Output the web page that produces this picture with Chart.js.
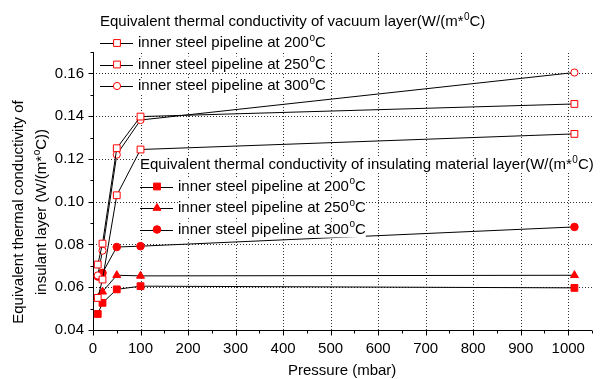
<!DOCTYPE html>
<html>
<head>
<meta charset="utf-8">
<script src="https://cdn.jsdelivr.net/npm/chart.js@4.4.0/dist/chart.umd.min.js"></script>
<style>
  body { margin: 0; background: #fff; }
  canvas { display: block; }
</style>
</head>
<body>
<canvas id="chart" width="601" height="379"></canvas>
<script>
// pressure (mbar) and conductivity readings
const pressure = [10, 20, 50, 100, 1013];
const vacuum200 = [0.055, 0.0636, 0.103, 0.1244, 0.1317];
const vacuum250 = [0.0706, 0.0804, 0.125, 0.1398, 0.1457];
const vacuum300 = [0.0655, 0.0771, 0.122, 0.1382, 0.1604];
const insul200 = [0.0475, 0.0527, 0.059, 0.0605, 0.0597];
const insul250 = [0.0548, 0.0579, 0.0656, 0.0653, 0.0656];
const insul300 = [0.065, 0.0667, 0.0788, 0.0792, 0.0882];

const xTicks = [0, 100, 200, 300, 400, 500, 600, 700, 800, 900, 1000];
const yTicks = [0.04, 0.06, 0.08, 0.10, 0.12, 0.14, 0.16];

const FONT = '"Liberation Sans", Arial, sans-serif';
const RED = '#ff0000';

const markers = {
    openSquare: { pointStyle: 'rect', radius: 4.8, fill: '#fff' },
    openCircle: { pointStyle: 'circle', radius: 3.6, fill: '#fff' },
    square: { pointStyle: 'rect', radius: 4.8, fill: RED },
    triangle: { pointStyle: 'triangle', radius: 4.6, fill: RED },
    circle: { pointStyle: 'circle', radius: 3.8, fill: RED }
};

function series(label, values, m) {
    const mk = markers[m];
    return {
        label: label,
        data: pressure.map((p, i) => ({ x: p, y: values[i] })),
        borderColor: '#000',
        borderWidth: 1,
        pointStyle: mk.pointStyle,
        pointRadius: mk.radius,
        pointBackgroundColor: mk.fill,
        pointBorderColor: RED,
        pointBorderWidth: 1,
        tension: 0
    };
}

// text pieces: plain strings, or {sup: '...'} for superscripts
function richWidth(ctx, parts, size) {
    let w = 0;
    parts.forEach(p => {
        if (typeof p === 'string') { ctx.font = size + 'px ' + FONT; w += ctx.measureText(p).width; }
        else { ctx.font = Math.round(size * 0.65) + 'px ' + FONT; w += ctx.measureText(p.sup).width + 0.5; }
    });
    return w;
}

function drawRich(ctx, parts, x, y, size) {
    ctx.textBaseline = 'middle';
    ctx.textAlign = 'left';
    ctx.fillStyle = '#000';
    parts.forEach(p => {
        if (typeof p === 'string') {
            ctx.font = size + 'px ' + FONT;
            ctx.fillText(p, x, y);
            x += ctx.measureText(p).width;
        } else {
            ctx.font = Math.round(size * 0.65) + 'px ' + FONT;
            ctx.fillText(p.sup, x + 0.5, y - size * 0.35);
            x += ctx.measureText(p.sup).width + 0.5;
        }
    });
}

const legendBlocks = [
    {
        title: ['Equivalent thermal conductivity of vacuum layer(W/(m*', { sup: '0' }, 'C)'],
        x: 100, titleY: 22,
        rows: [
            { y: 43, m: 'openSquare', t: '200' },
            { y: 64.5, m: 'openSquare', t: '250' },
            { y: 86, m: 'openCircle', t: '300' }
        ]
    },
    {
        title: ['Equivalent thermal conductivity of insulating material layer(W/(m*', { sup: '0' }, 'C)'],
        x: 140, titleY: 165,
        rows: [
            { y: 186.5, m: 'square', t: '200' },
            { y: 208, m: 'triangle', t: '250' },
            { y: 229.5, m: 'circle', t: '300' }
        ]
    }
];

const framePlugin = {
    id: 'frame',
    beforeDatasetsDraw(chart) {
        const { ctx, chartArea: a, scales: { x, y } } = chart;
        ctx.save();
        // dotted grid
        ctx.strokeStyle = '#333';
        ctx.lineWidth = 1;
        ctx.setLineDash([1, 2]);
        xTicks.slice(1).forEach(v => {
            const px = Math.round(x.getPixelForValue(v)) + 0.5;
            ctx.beginPath(); ctx.moveTo(px, a.bottom); ctx.lineTo(px, a.top); ctx.stroke();
        });
        yTicks.slice(1).forEach(v => {
            const py = Math.round(y.getPixelForValue(v)) + 0.5;
            ctx.beginPath(); ctx.moveTo(a.left, py); ctx.lineTo(a.right, py); ctx.stroke();
        });
        ctx.setLineDash([]);
        ctx.strokeStyle = '#000';
        // axes
        const ax = Math.round(a.left) + 0.5, ay = Math.round(a.bottom) + 0.5;
        ctx.beginPath();
        ctx.moveTo(ax, a.top); ctx.lineTo(ax, ay); ctx.lineTo(a.right, ay);
        ctx.stroke();
        // tick marks, major and minor
        for (let v = 0; v <= 1050; v += 50) {
            const px = Math.round(x.getPixelForValue(v)) + 0.5;
            const len = v % 100 === 0 ? 5 : 3;
            ctx.beginPath(); ctx.moveTo(px, ay); ctx.lineTo(px, ay + len); ctx.stroke();
        }
        for (let k = 4; k <= 17; k++) {
            const py = Math.round(y.getPixelForValue(k / 100)) + 0.5;
            const len = k % 2 === 0 ? 5 : 3;
            ctx.beginPath(); ctx.moveTo(ax, py); ctx.lineTo(ax - len, py); ctx.stroke();
        }
        ctx.restore();
    },
    afterDatasetsDraw(chart) {
        const ctx = chart.ctx;
        const size = 15;
        ctx.save();
        legendBlocks.forEach(b => {
            const tw = richWidth(ctx, b.title, size);
            ctx.fillStyle = '#fff';
            ctx.fillRect(b.x, b.titleY - 8, tw, 16);
            drawRich(ctx, b.title, b.x, b.titleY, size);
            b.rows.forEach(r => {
                const parts = ['inner steel pipeline at ' + r.t, { sup: 'o' }, 'C'];
                const tx = b.x + 38;
                const w = richWidth(ctx, parts, size);
                ctx.fillStyle = '#fff';
                ctx.fillRect(tx, r.y - 8, w, 16);
                ctx.strokeStyle = '#000';
                ctx.lineWidth = 1;
                ctx.beginPath();
                ctx.moveTo(b.x, Math.round(r.y) + 0.5);
                ctx.lineTo(b.x + 33, Math.round(r.y) + 0.5);
                ctx.stroke();
                const mk = markers[r.m];
                ctx.fillStyle = mk.fill;
                ctx.strokeStyle = RED;
                Chart.helpers.drawPoint(ctx, { pointStyle: mk.pointStyle, radius: mk.radius, rotation: 0, borderWidth: 1 }, b.x + 17, r.y);
                drawRich(ctx, parts, tx, r.y, size);
            });
        });
        // axis titles
        drawRich(ctx, ['Pressure (mbar)'], 288, 371, size);
        const l1 = ['Equivalent thermal conductivity of'];
        const l2 = ['insulant layer (W/(m*', { sup: 'o' }, 'C))'];
        [[l1, 19], [l2, 42]].forEach(([parts, cx]) => {
            ctx.save();
            ctx.translate(cx, 212);
            ctx.rotate(-Math.PI / 2);
            const w = richWidth(ctx, parts, size);
            drawRich(ctx, parts, -w / 2, 0, size);
            ctx.restore();
        });
        ctx.restore();
    }
};

new Chart(document.getElementById('chart'), {
    type: 'line',
    data: {
        datasets: [
            series('vacuum 200', vacuum200, 'openSquare'),
            series('vacuum 250', vacuum250, 'openSquare'),
            series('vacuum 300', vacuum300, 'openCircle'),
            series('insulating 200', insul200, 'square'),
            series('insulating 250', insul250, 'triangle'),
            series('insulating 300', insul300, 'circle')
        ]
    },
    options: {
        responsive: false,
        animation: false,
        layout: { padding: { top: 52, right: 9, left: 0, bottom: 0 } },
        plugins: { legend: { display: false }, tooltip: { enabled: false } },
        scales: {
            x: {
                type: 'linear',
                min: 0,
                max: 1050,
                grid: { display: false, drawTicks: false },
                border: { display: false },
                afterBuildTicks: s => { s.ticks = xTicks.map(v => ({ value: v })); },
                ticks: {
                    autoSkip: false,
                    maxRotation: 0,
                    padding: 10,
                    color: '#000',
                    font: { family: FONT, size: 15 },
                    callback: v => String(v)
                },
                afterFit: s => { s.height = 49; }
            },
            y: {
                type: 'linear',
                min: 0.04,
                max: 0.17,
                grid: { display: false, drawTicks: false },
                border: { display: false },
                afterBuildTicks: s => { s.ticks = yTicks.map(v => ({ value: v })); },
                ticks: {
                    autoSkip: false,
                    padding: 9,
                    color: '#000',
                    font: { family: FONT, size: 15 },
                    callback: v => v.toFixed(2)
                },
                afterFit: s => { s.width = 93; }
            }
        }
    },
    plugins: [framePlugin]
});
</script>
</body>
</html>
